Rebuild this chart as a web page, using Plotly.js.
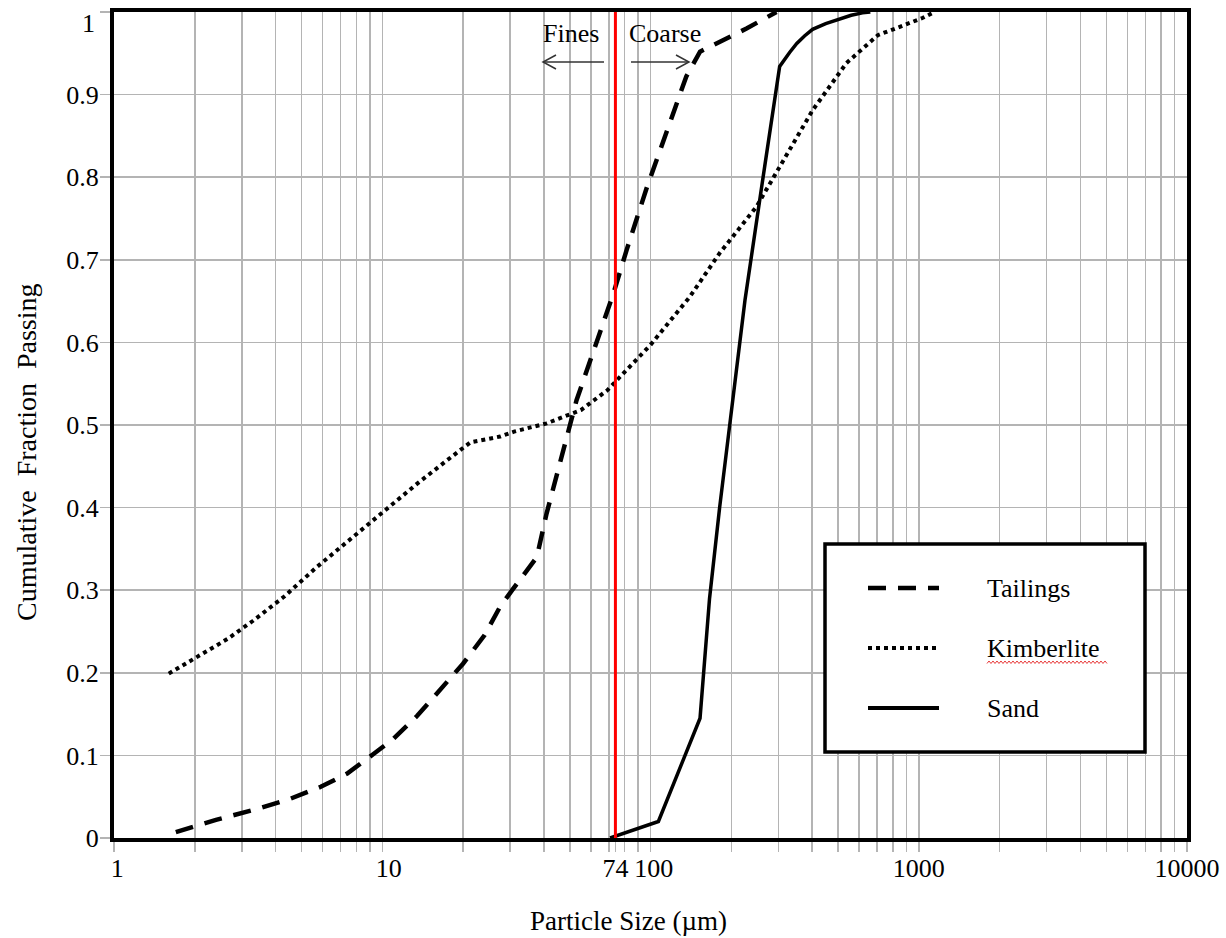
<!DOCTYPE html>
<html>
<head>
<meta charset="utf-8">
<script src="https://cdn.plot.ly/plotly-3.0.1.min.js"></script>
<style>
  html, body { margin: 0; padding: 0; background: #ffffff; }
  #chart { width: 1226px; height: 938px; }
</style>
</head>
<body>
<div id="chart"></div>
<script>
// ---------------- data ----------------
const tailingsSize = [1.7, 2.4, 3.4, 4.5, 5.9, 7.4, 9.3, 11, 13.5, 16.5, 20, 24, 27.5, 30.5, 37.7, 41, 47.5, 53, 72.7, 81.5, 97, 115, 136, 153, 228, 295];
const tailingsPass = [0.007, 0.022, 0.035, 0.047, 0.062, 0.078, 0.102, 0.12, 0.148, 0.181, 0.211, 0.245, 0.28, 0.30, 0.34, 0.393, 0.473, 0.53, 0.659, 0.712, 0.788, 0.857, 0.922, 0.952, 0.98, 1.0];

const kimberliteSize = [1.6, 2.1, 2.65, 3.3, 4.3, 5.7, 7.6, 10.1, 13.5, 17.4, 21.3, 27.5, 31, 41, 55, 69, 100, 140, 181, 248, 303, 402, 537, 704, 850, 1036, 1144];
const kimberlitePass = [0.199, 0.221, 0.241, 0.263, 0.292, 0.328, 0.362, 0.396, 0.429, 0.457, 0.479, 0.486, 0.492, 0.502, 0.518, 0.542, 0.597, 0.655, 0.708, 0.764, 0.813, 0.881, 0.938, 0.972, 0.982, 0.993, 1.0];

const sandSize = [70.7, 107, 153, 166, 181, 200, 225, 262, 303, 330, 351, 375, 402, 450, 507, 560, 617, 660];
const sandPass = [0.0, 0.02, 0.145, 0.29, 0.40, 0.514, 0.651, 0.797, 0.934, 0.951, 0.962, 0.971, 0.979, 0.986, 0.992, 0.996, 0.999, 1.0];

const cutSize = [74, 74];
const cutPass = [0, 1];

const seriesNames = ["Tailings", "Kimberlite", "Sand"];

const xGridVals = [1,2,3,4,5,6,7,8,9,10,20,30,40,50,60,70,74,80,90,100,200,300,400,500,600,700,800,900,1000,2000,3000,4000,5000,6000,7000,8000,9000,10000];
const xLabelVals = [1, 10, 74, 100, 1000, 10000];
const xLabelText = ["\u00a01", "\u00a0\u00a010", "74", "\u00a0100", "1000", "10000"];
const yTickVals = [0, 0.1, 0.2, 0.3, 0.4, 0.5, 0.6, 0.7, 0.8, 0.9, 1];
const yTickText = ["0", "0.1", "0.2", "0.3", "0.4", "0.5", "0.6", "0.7", "0.8", "0.9", ""];
const yTopLabel = "1";

const xTitle = "Particle Size (\u00b5m)";
const yTitle = "Cumulative\u00a0 Fraction\u00a0 Passing";
const finesLabel = "Fines";
const coarseLabel = "Coarse";

// ---------------- layout helpers ----------------
const FONT = "Liberation Serif, Times New Roman, serif";
const L = 114, R = 39, T = 12, B = 100, W = 1226, H = 938;
const PW = W - L - R, PH = H - T - B;
function px(x) { return (x - L) / PW; }
function py(y) { return (H - B - y) / PH; }

const xTickText = xGridVals.map(v => {
  const i = xLabelVals.indexOf(v);
  return i >= 0 ? xLabelText[i] : "";
});

const traces = [
  { x: tailingsSize, y: tailingsPass, name: seriesNames[0], mode: "lines",
    line: { color: "#000000", width: 4.5, dash: "18px,12px" }, showlegend: false },
  { x: kimberliteSize, y: kimberlitePass, name: seriesNames[1], mode: "lines",
    line: { color: "#000000", width: 4, dash: "4px,4px" }, showlegend: false },
  { x: sandSize, y: sandPass, name: seriesNames[2], mode: "lines",
    line: { color: "#000000", width: 3.5 }, showlegend: false },
  { x: cutSize, y: cutPass, name: "74 \u00b5m", mode: "lines",
    line: { color: "#ff0000", width: 3 }, showlegend: false, cliponaxis: false }
];

// custom legend
const legRows = [588, 648, 708];
const legDash = ["18px,12px", "4px,4px", "solid"];
const legWidth = [4.5, 4, 4];
const shapes = [];
const annotations = [];

shapes.push({ type: "rect", xref: "paper", yref: "paper",
  x0: px(825), x1: px(1145), y0: py(752), y1: py(544),
  line: { color: "#000000", width: 3.5 }, fillcolor: "#ffffff", layer: "above" });
for (let i = 0; i < 3; i++) {
  shapes.push({ type: "line", xref: "paper", yref: "paper",
    x0: px(868), x1: px(939), y0: py(legRows[i]), y1: py(legRows[i]),
    line: { color: "#000000", width: legWidth[i], dash: legDash[i] }, layer: "above" });
  annotations.push({ xref: "paper", yref: "paper", x: px(985), y: py(legRows[i]),
    xanchor: "left", yanchor: "middle", showarrow: false, text: seriesNames[i],
    font: { family: FONT, size: 26, color: "#000000" } });
}
// red wavy spell-check underline under "Kimberlite"
let wave = "";
for (let xx = 987, k = 0; xx <= 1108; xx += 2, k++) {
  const yy = (k % 2 === 0) ? 663.5 : 661;
  wave += (k === 0 ? "M" : " L") + px(xx).toFixed(5) + "," + py(yy).toFixed(5);
}
shapes.push({ type: "path", xref: "paper", yref: "paper", path: wave,
  line: { color: "#e83a3a", width: 1 }, layer: "above" });

// Fines / Coarse arrows
const arrowColor = "#333333";
shapes.push({ type: "line", xref: "paper", yref: "paper", x0: px(543), x1: px(604), y0: py(62), y1: py(62), line: { color: arrowColor, width: 1.5 } });
shapes.push({ type: "path", xref: "paper", yref: "paper",
  path: "M" + px(556) + "," + py(55) + " L" + px(543) + "," + py(62) + " L" + px(556) + "," + py(69),
  line: { color: arrowColor, width: 1.5 } });
shapes.push({ type: "line", xref: "paper", yref: "paper", x0: px(631), x1: px(689), y0: py(62), y1: py(62), line: { color: arrowColor, width: 1.5 } });
shapes.push({ type: "path", xref: "paper", yref: "paper",
  path: "M" + px(676) + "," + py(55) + " L" + px(689) + "," + py(62) + " L" + px(676) + "," + py(69),
  line: { color: arrowColor, width: 1.5 } });

annotations.push({ xref: "paper", yref: "paper", x: px(571), y: py(33), xanchor: "center", yanchor: "middle",
  showarrow: false, text: finesLabel, font: { family: FONT, size: 26, color: "#000000" } });
annotations.push({ xref: "paper", yref: "paper", x: px(665), y: py(33), xanchor: "center", yanchor: "middle",
  showarrow: false, text: coarseLabel, font: { family: FONT, size: 26, color: "#000000" } });

// top y label (drawn slightly below the top edge, as in the original)
annotations.push({ xref: "paper", yref: "paper", x: px(97), y: py(23), xanchor: "right", yanchor: "middle",
  showarrow: false, text: yTopLabel, font: { family: FONT, size: 26, color: "#000000" } });

// axis titles
annotations.push({ xref: "paper", yref: "paper", x: px(628), y: py(921), xanchor: "center", yanchor: "middle",
  showarrow: false, text: xTitle, font: { family: FONT, size: 27, color: "#000000" } });
annotations.push({ xref: "paper", yref: "paper", x: px(26), y: py(452), xanchor: "center", yanchor: "middle",
  showarrow: false, textangle: -90, text: yTitle, font: { family: FONT, size: 28, color: "#000000" } });

const gridColor = "#b4b4b4";
const layout = {
  width: W, height: H,
  margin: { l: L, r: R, t: T, b: B, pad: 0 },
  paper_bgcolor: "#ffffff", plot_bgcolor: "#ffffff",
  showlegend: false,
  xaxis: {
    type: "log", range: [0, 4],
    tickmode: "array", tickvals: xGridVals, ticktext: xTickText,
    tickangle: 0, ticklabeloverflow: "allow",
    showgrid: true, gridcolor: gridColor, gridwidth: 1.5,
    ticks: "outside", ticklen: 10, tickcolor: gridColor, tickwidth: 1.5,
    ticklabelstandoff: -6,
    showline: true, linecolor: "#000000", linewidth: 4, mirror: true,
    zeroline: false, fixedrange: true,
    tickfont: { family: FONT, size: 26, color: "#000000" }
  },
  yaxis: {
    range: [0, 1],
    tickmode: "array", tickvals: yTickVals, ticktext: yTickText,
    showgrid: true, gridcolor: gridColor, gridwidth: 1.5,
    ticks: "outside", ticklen: 10, tickcolor: gridColor, tickwidth: 1.5,
    ticklabelstandoff: -4,
    showline: true, linecolor: "#000000", linewidth: 4, mirror: true,
    zeroline: false, fixedrange: true,
    tickfont: { family: FONT, size: 26, color: "#000000" }
  },
  shapes: shapes,
  annotations: annotations
};

Plotly.newPlot("chart", traces, layout, { staticPlot: true, displayModeBar: false });
</script>
</body>
</html>
